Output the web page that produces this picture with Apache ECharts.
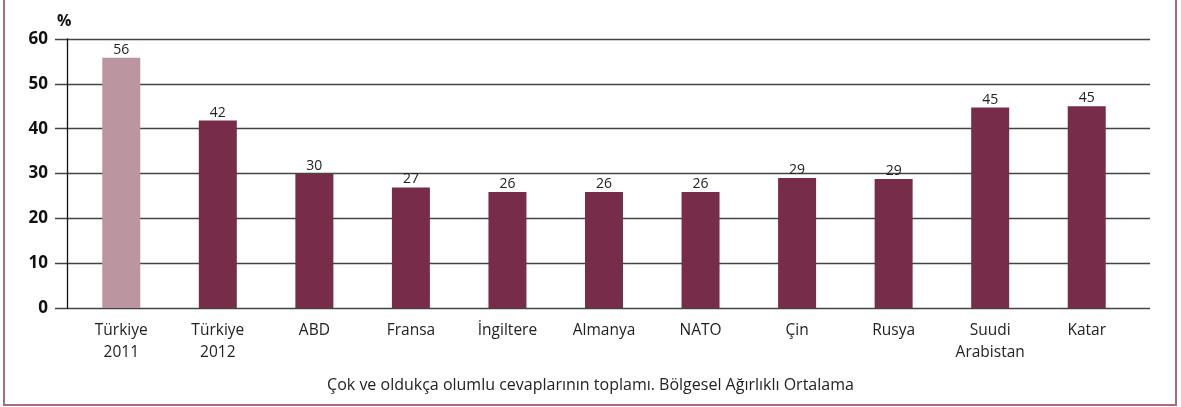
<!DOCTYPE html>
<html>
<head>
  <meta charset="utf-8">
  <title>Olumlu cevaplar</title>
  <style>
    html, body { margin: 0; padding: 0; background: #fff; overflow: hidden; }
    #frame {
      position: absolute; left: 3px; top: -10px;
      width: 1170px; height: 412px;
      border: 2px solid #a86b82;
    }
    #main { position: absolute; left: 0; top: 0; width: 1181px; height: 407px; }
  </style>
</head>
<body>
<div id="frame"></div>
<div id="main"></div>
<script src="https://cdn.jsdelivr.net/npm/echarts@6/dist/echarts.min.js"></script>
<script>
var categories = ["Türkiye\n2011", "Türkiye\n2012", "ABD", "Fransa", "İngiltere", "Almanya", "NATO", "Çin", "Rusya", "Suudi\nArabistan", "Katar"];
var values = [55.8, 41.8, 29.9, 26.9, 25.9, 25.9, 25.9, 29, 28.8, 44.7, 45];
var barColors = ["#bb96a1", "#772d4a", "#772d4a", "#772d4a", "#772d4a", "#772d4a", "#772d4a", "#772d4a", "#772d4a", "#772d4a", "#772d4a"];
var yTicks = [0, 10, 20, 30, 40, 50, 60];
var note = "Çok ve oldukça olumlu cevaplarının toplamı. Bölgesel Ağırlıklı Ortalama";

var font = "'Open Sans', 'Noto Sans', sans-serif";
var chart = echarts.init(document.getElementById("main"));

chart.setOption({
  animation: false,
  textStyle: { fontFamily: font },
  title: {
    text: note,
    left: 'center',
    top: 372,
    textStyle: { fontSize: 16, fontWeight: 'normal', color: '#222', fontFamily: font }
  },
  grid: [
    // grid lines and tick labels
    { left: 55, right: 31, top: 39, bottom: 99 },
    // bars
    { left: 73, right: 46, top: 39, bottom: 99 }
  ],
  xAxis: [
    { gridIndex: 0, type: 'value', show: false, min: 0, max: 1 },
    {
      gridIndex: 1,
      type: 'category',
      data: categories,
      axisLine: { show: false },
      axisTick: { show: false },
      axisLabel: { color: '#222', fontSize: 15.5, lineHeight: 22, margin: 12, interval: 0, fontFamily: font }
    }
  ],
  yAxis: [
    {
      gridIndex: 0,
      type: 'value',
      min: yTicks[0],
      max: yTicks[yTicks.length - 1],
      interval: 10,
      name: '%',
      nameLocation: 'end',
      nameGap: 10,
      nameTextStyle: { color: '#111', fontWeight: 'bold', fontSize: 16, align: 'left', padding: [0, 0, 0, 2], fontFamily: font },
      axisLine: { show: false },
      axisTick: { show: false },
      axisLabel: { color: '#111', fontWeight: 'bold', fontSize: 17, margin: 7, fontFamily: font },
      splitLine: { show: true, lineStyle: { color: '#444', width: 1.3 } }
    },
    {
      gridIndex: 1,
      type: 'value',
      min: yTicks[0],
      max: yTicks[yTicks.length - 1],
      interval: 10,
      offset: 6,
      axisLine: { show: true, lineStyle: { color: '#111', width: 1.3 } },
      axisTick: { show: false },
      axisLabel: { show: false },
      splitLine: { show: false }
    }
  ],
  series: [{
    type: 'bar',
    xAxisIndex: 1,
    yAxisIndex: 1,
    barWidth: 38,
    data: values.map(function (v, i) {
      return { value: v, itemStyle: { color: barColors[i] } };
    }),
    label: {
      show: true,
      position: 'top',
      distance: 1,
      color: '#222',
      fontSize: 14,
      fontFamily: font,
      formatter: function (p) { return Math.round(p.value); }
    }
  }]
});
</script>
</body>
</html>
